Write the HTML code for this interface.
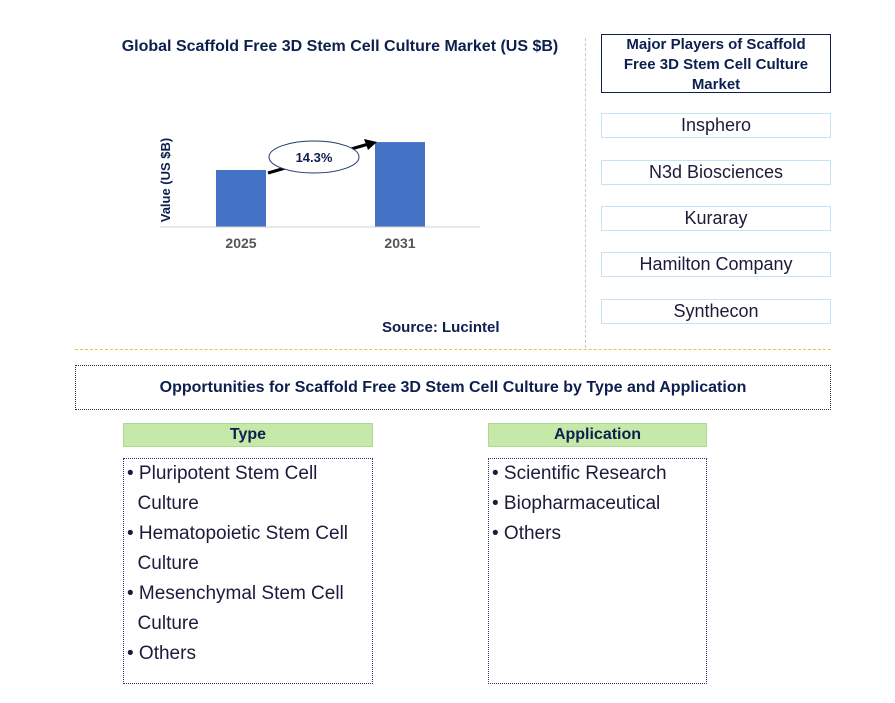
<!DOCTYPE html>
<html><head><meta charset="utf-8"><style>
body{margin:0;width:895px;height:703px;background:#fff;font-family:"Liberation Sans",Arial,sans-serif;position:relative;overflow:hidden}
.a{position:absolute}
.pl{position:absolute;left:601px;width:228px;height:23px;border:1px solid #c5e3f3;text-align:center;font-size:18px;line-height:23px;color:#1b1b3a}
.hd{position:absolute;height:22px;background:#c6e8a8;border:1px solid #b0d890;text-align:center;font-weight:bold;font-size:16px;line-height:22px;color:#0d1f4f}
.lst{position:absolute;border:1px dotted #1f3a7a;font-size:19px;line-height:30px;color:#1b1b3a}
</style></head><body>
<div class="a" style="left:90px;top:38px;width:500px;text-align:center;font-weight:bold;font-size:16px;color:#0d1f4f">Global Scaffold Free 3D Stem Cell Culture Market (US $B)</div>
<svg class="a" style="left:0;top:0" width="585" height="345">
<g id="g"></g>
<text x="170" y="180" transform="rotate(-90 170 180)" text-anchor="middle" font-size="13" font-weight="bold" fill="#0d1f4f">Value (US $B)</text>
<line x1="160" y1="227" x2="480" y2="227" stroke="#d0d0d0"/>
<line x1="268" y1="173" x2="372" y2="143" stroke="#000" stroke-width="3"/>
<polygon points="377,142 364,139 368,150" fill="#000"/>
<ellipse cx="314" cy="157" rx="45" ry="16" fill="#fff" stroke="#1f3a6a"/>
<text x="314" y="162" text-anchor="middle" font-size="13" font-weight="bold" fill="#0d1f4f">14.3%</text>
</svg>
<script>
const categories=["2025","2031"];
const values=[1.0,1.49];
const g=document.getElementById('g');
const ns='http://www.w3.org/2000/svg';
const yS=v=>227-v*57;
const xS=i=>216+i*159;
categories.forEach((c,i)=>{
 const r=document.createElementNS(ns,'rect');
 r.setAttribute('x',xS(i));r.setAttribute('y',yS(values[i]));r.setAttribute('width',50);r.setAttribute('height',227-yS(values[i]));r.setAttribute('fill','#4472c4');
 
 
 g.appendChild(r);
 const t=document.createElementNS(ns,'text');
 t.setAttribute('x',xS(i)+25);t.setAttribute('y',248);t.setAttribute('text-anchor','middle');t.setAttribute('font-size','14');t.setAttribute('font-weight','bold');t.setAttribute('fill','#555');
 t.textContent=c;
 
 
 g.appendChild(t);
});
</script>
<div class="a" style="left:382px;top:319px;font-weight:bold;font-size:15px;color:#0d1f4f">Source: Lucintel</div>
<div class="a" style="left:585px;top:38px;height:310px;border-left:1px dashed #c8c8c8"></div>
<div class="a" style="left:75px;top:349px;width:756px;border-top:1px dashed #f0c040"></div>
<div class="a" style="left:601px;top:34px;width:200px;padding:0 14px;height:57px;border:1px solid #0d1f4f;text-align:center;font-weight:bold;font-size:15px;line-height:20px;color:#0d1f4f">Major Players of Scaffold Free 3D Stem Cell Culture Market</div>
<div class="pl" style="top:113px">Insphero</div>
<div class="pl" style="top:160px">N3d Biosciences</div>
<div class="pl" style="top:206px">Kuraray</div>
<div class="pl" style="top:252px">Hamilton Company</div>
<div class="pl" style="top:299px">Synthecon</div>
<div class="a" style="left:75px;top:365px;width:754px;height:43px;border:1px dotted #333;text-align:center;font-weight:bold;font-size:16px;line-height:43px;color:#0d1f4f">Opportunities for Scaffold Free 3D Stem Cell Culture by Type and Application</div>
<div class="hd" style="left:123px;top:423px;width:248px">Type</div>
<div class="hd" style="left:488px;top:423px;width:217px">Application</div>
<div class="lst" style="left:123px;top:458px;width:248px;height:224px">
<div style="padding:0 3px;margin-top:0">• Pluripotent Stem Cell<br>&nbsp;&nbsp;Culture<br>• Hematopoietic Stem Cell<br>&nbsp;&nbsp;Culture<br>• Mesenchymal Stem Cell<br>&nbsp;&nbsp;Culture<br>• Others</div></div>
<div class="lst" style="left:488px;top:458px;width:217px;height:224px">
<div style="padding:0 3px;margin-top:0">• Scientific Research<br>• Biopharmaceutical<br>• Others</div></div>
</body></html>
